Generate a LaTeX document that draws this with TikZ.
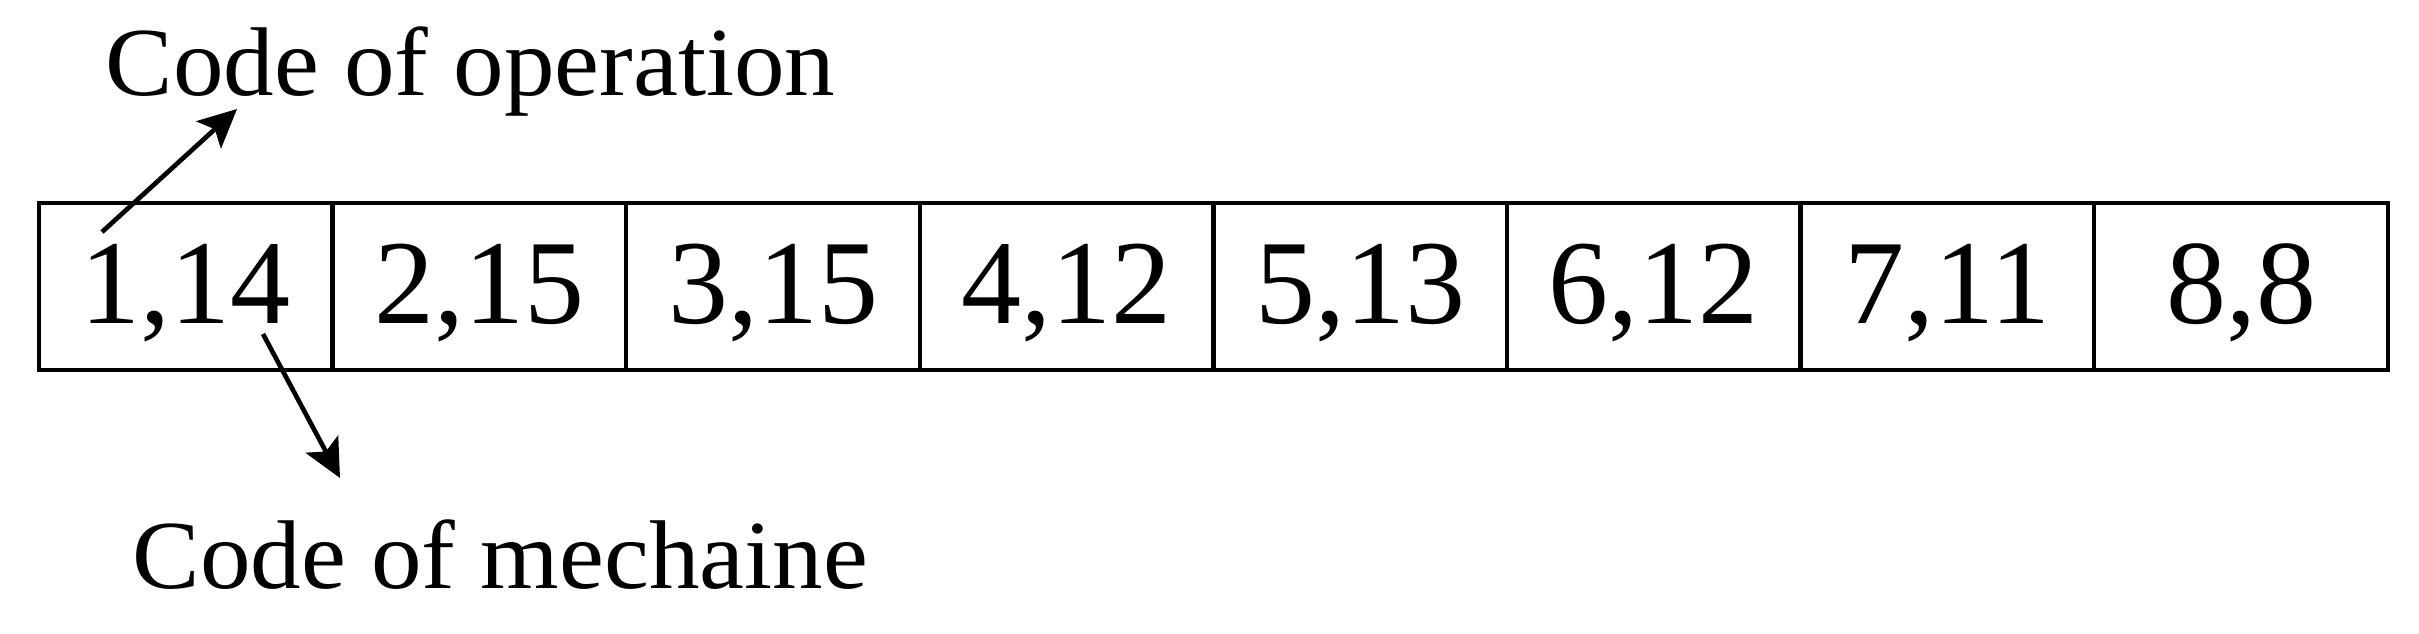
\documentclass[tikz,border=0pt]{standalone}
\usepackage{fontspec}
\setmainfont{Liberation Serif}
\newfontfamily\lblfont[FakeStretch=1.035]{Liberation Serif}
\usetikzlibrary{arrows.meta}
\begin{document}
\begin{tikzpicture}[x=0.3pt,y=-0.3pt,
  cell/.style={draw,line width=1.3pt,minimum width=88.08pt,minimum height=50.1pt,
    inner sep=0pt,text height=22.5pt,text depth=0pt,font=\fontsize{36}{40}\selectfont},
  lbl/.style={inner sep=0pt,anchor=base west,font=\lblfont\fontsize{29.3}{33}\selectfont},
  arr/.style={line width=1.4pt,-{Stealth[length=11.5pt,width=11pt,inset=2.5pt]}}]
\useasboundingbox (0,0) rectangle (2419,634);
\foreach \t [count=\i] in {{1,14},{2,15},{3,15},{4,12},{5,13},{6,12},{7,11},{8,8}}
  \node[cell] (c\i) at ({39+293.6*(\i-0.5)},286.5) {\t};
\node[lbl] (op) at (105,96) {Code of operation};
\node[lbl] (me) at (132,588) {Code of mechaine};
\coordinate (s1) at (102,232);
\coordinate (t1) at (237,109);
\coordinate (s2) at (263,334);
\coordinate (t2) at (340,478);
\draw[arr] (s1) -- (t1);
\draw[arr] (s2) -- (t2);
\end{tikzpicture}
\end{document}
